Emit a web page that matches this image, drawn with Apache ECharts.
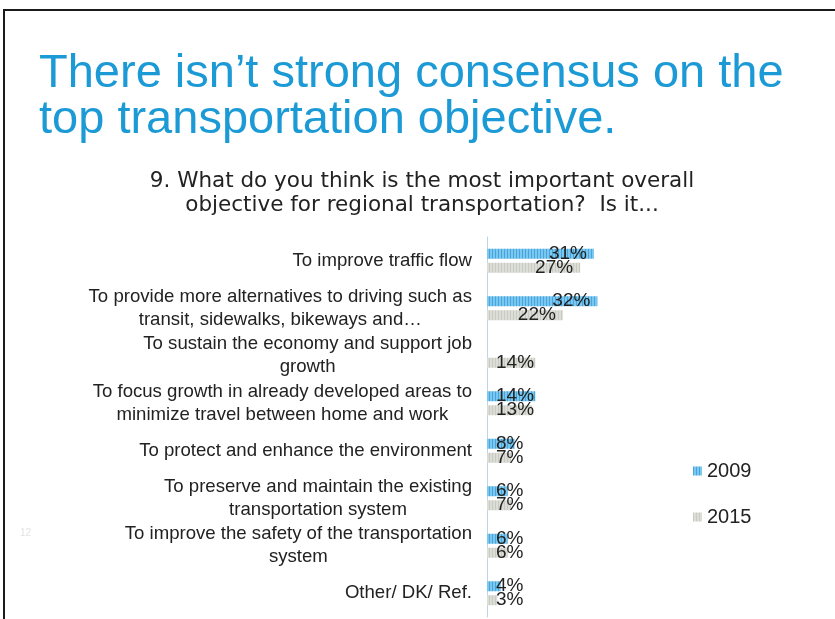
<!DOCTYPE html>
<html>
<head>
<meta charset="utf-8">
<script src="https://cdn.jsdelivr.net/npm/echarts@6/dist/echarts.min.js"></script>
<style>
  html, body { margin: 0; padding: 0; background: #fff; }
  #chart { width: 835px; height: 619px; }
</style>
</head>
<body>
<div id="chart"></div>
<script>
// survey answers, top to bottom
const categories = [
  'To improve traffic flow',
  'To provide more alternatives to driving such as\ntransit, sidewalks, bikeways and\u2026',
  'To sustain the economy and support job\ngrowth',
  'To focus growth in already developed areas to\nminimize travel between home and work',
  'To protect and enhance the environment',
  'To preserve and maintain the existing\ntransportation system',
  'To improve the safety of the transportation\nsystem',
  'Other/ DK/ Ref.'
];
const seriesNames = ['2009', '2015'];
const values2009 = [31, 32, null, 14, 8, 6, 6, 4];
const values2015 = [27, 22, 14, 13, 7, 7, 6, 3];

const titleText = 'There isn\u2019t strong consensus on the\ntop transportation objective.';
const questionText = '9. What do you think is the most important overall\nobjective for regional transportation?  Is it...';

// striped fills like the scanned bars
function stripes(base, line) {
  let c = document.createElement('canvas');
  c.width = 3; c.height = 4;
  let ctx = c.getContext('2d');
  ctx.fillStyle = base;
  ctx.fillRect(0, 0, 3, 4);
  ctx.fillStyle = line;
  ctx.fillRect(0, 0, 1, 4);
  return { image: c, repeat: 'repeat' };
}
const blueFill = stripes('#78c8ef', '#4aa3dc');
const grayFill = stripes('#dcddd6', '#c8cbc1');

const font = '"Liberation Sans", Arial, sans-serif';

function barData(vals) {
  return vals.map(v => {
    if (v == null) return '-';
    let small = v <= 14;
    return {
      value: v,
      label: small ? { position: 'insideLeft', distance: 9 } : { position: 'insideRight', distance: 7 }
    };
  });
}

const chart = echarts.init(document.getElementById('chart'));
const option = {
  backgroundColor: '#fff',
  animation: false,
  title: {
    text: titleText,
    left: 34,
    top: 46,
    textStyle: {
      color: '#1c9ad6',
      fontSize: 47,
      lineHeight: 46,
      fontWeight: 'normal',
      fontFamily: font
    }
  },
  legend: {
    orient: 'vertical',
    left: 688,
    top: 455,
    itemWidth: 9,
    itemHeight: 9,
    itemGap: 24,
    icon: 'rect',
    textStyle: { color: '#222', fontSize: 20, fontFamily: font, lineHeight: 22 },
    data: seriesNames
  },
  grid: {
    left: 487,
    width: 345,
    top: 237,
    bottom: 2,
    containLabel: false
  },
  xAxis: {
    type: 'value',
    min: 0,
    max: 100,
    show: false
  },
  yAxis: {
    type: 'category',
    inverse: true,
    data: categories,
    axisTick: { show: false },
    axisLine: { show: true, lineStyle: { color: '#bcd6e8', width: 1 } },
    axisLabel: {
      margin: 15,
      color: '#222',
      fontSize: 18.6,
      fontFamily: font,
      lineHeight: 23,
      formatter: v => v.split('\n').map(s => '{c|' + s + '}').join('\n'),
      rich: {
        c: { align: 'center', fontSize: 18.6, lineHeight: 23, fontFamily: font, color: '#222' }
      }
    }
  },
  series: [{
    name: seriesNames[0],
    type: 'bar',
    data: barData(values2009),
    barWidth: 10,
    barGap: '40%',
    itemStyle: { color: blueFill },
    label: {
      show: true,
      formatter: '{c}%',
      color: '#222',
      fontSize: 19,
      fontFamily: font
    }
  }, {
    name: seriesNames[1],
    type: 'bar',
    data: barData(values2015),
    barWidth: 10,
    barGap: '40%',
    itemStyle: { color: grayFill },
    label: {
      show: true,
      formatter: '{c}%',
      color: '#222',
      fontSize: 19,
      fontFamily: font
    }
  }],
  graphic: [
    { type: 'line', shape: { x1: 3, y1: 10, x2: 835, y2: 10 }, style: { stroke: '#1a1a1a', lineWidth: 2 } },
    { type: 'line', shape: { x1: 4, y1: 10, x2: 4, y2: 619 }, style: { stroke: '#1a1a1a', lineWidth: 2 } },
    {
      type: 'text', x: 422, y: 169,
      style: {
        text: questionText, fill: '#222', fontSize: 21.5, lineHeight: 24,
        fontFamily: '"DejaVu Sans", sans-serif', align: 'center'
      }
    },
    { type: 'text', left: 20, top: 528, style: { text: '12', fill: '#e2e2e2', fontSize: 10, fontFamily: font } }
  ]
};
chart.setOption(option);
</script>
</body>
</html>
